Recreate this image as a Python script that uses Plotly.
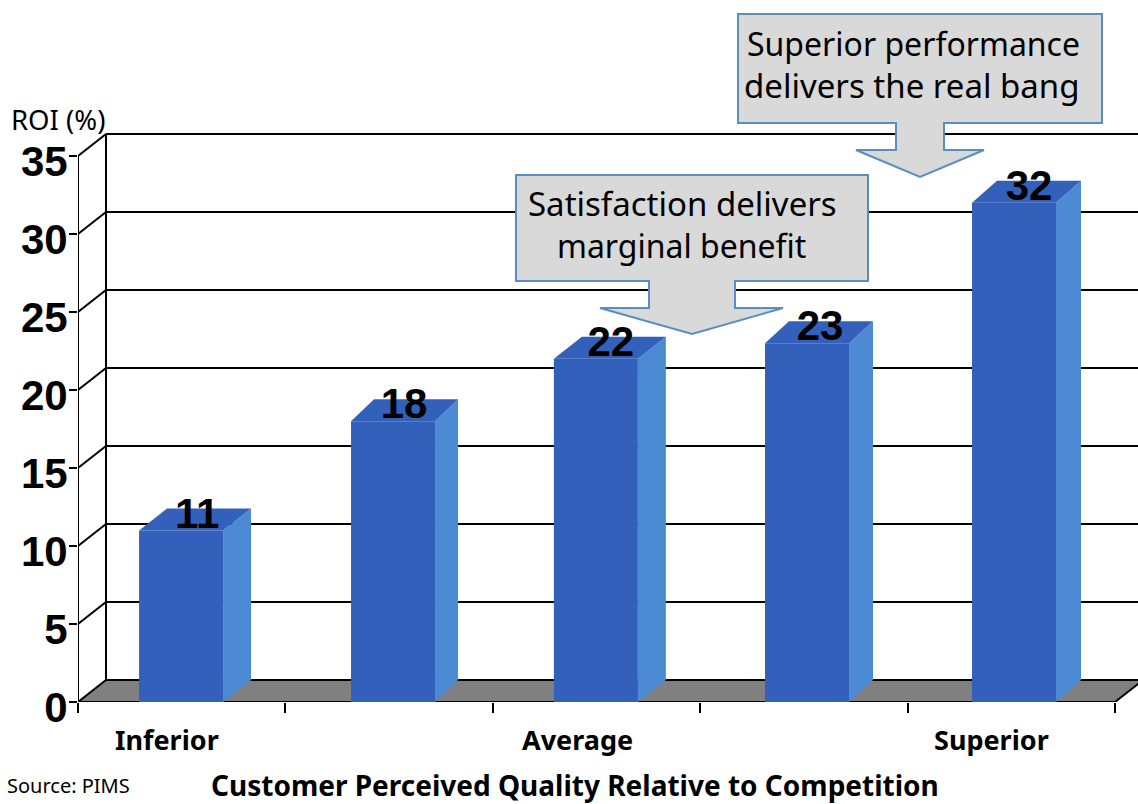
import plotly.graph_objects as go

# ---- data ----
categories = ["Inferior", "", "Average", "", "Superior"]
roi_values = [11, 18, 22, 23, 32]
value_labels = ["11", "18", "22", "23", "32"]
y_ticks = [0, 5, 10, 15, 20, 25, 30, 35]
x_ticks = [0, 1, 2, 3, 4, 5]

# ---- geometry (pixel calibration of the axes) ----
W, H = 1138, 804
X0, Y0 = 78, 702          # pixel of x=0, y=0
SLOT, UNIT = 207.4, 15.6  # pixels per category, per ROI point
DX, DY = 28 / SLOT, 22 / UNIT  # 3-D depth in axis units
BAR_W = 84 / SLOT
bar_nudge = [0.497, 1.519, 2.497, 3.515, 4.513]
bar_depth_px = [28, 23, 28, 24, 25]
label_shift_px = [16, 11, 15, 13, 15]
XMAX = (W - X0) / SLOT
YMAX = Y0 / UNIT
FRONT, SIDE, FLOOR = "#3360BA", "#4C8AD4", "#808080"
BOX_FILL, BOX_LINE = "#D9D9D9", "#5B8CC4"
SANS = "Noto Sans, sans-serif"
HEAD = "Liberation Sans, Arial, sans-serif"


def px(x):
    return (x - X0) / SLOT


def py(y):
    return (Y0 - y) / UNIT


def path(points):
    return "M " + " L ".join(f"{a:.4f},{b:.4f}" for a, b in points) + " Z"


fig = go.Figure()

# front faces
fig.add_trace(go.Bar(x=bar_nudge, y=roi_values, width=BAR_W, marker=dict(color=FRONT, line=dict(width=0)),
                     hoverinfo="skip", showlegend=False))

# side + top faces
for c, v, d in zip(bar_nudge, roi_values, bar_depth_px):
    l, r = c - BAR_W / 2, c + BAR_W / 2
    dx = d / SLOT
    fig.add_trace(go.Scatter(x=[r, r + dx, r + dx, r, r], y=[0, DY, v + DY, v, 0], mode="lines", fill="toself",
                             fillcolor=SIDE, line=dict(width=0), hoverinfo="skip", showlegend=False))
    fig.add_trace(go.Scatter(x=[l, r, r + dx, l + dx, l], y=[v, v, v + DY, v + DY, v], mode="lines", fill="toself",
                             fillcolor=FRONT, line=dict(width=0), hoverinfo="skip", showlegend=False))

# value labels
fig.add_trace(go.Scatter(x=[c + s / SLOT for c, s in zip(bar_nudge, label_shift_px)],
                         y=[v + 0.85 for v in roi_values], mode="text",
                         text=value_labels, textposition="middle center",
                         textfont=dict(family=HEAD, size=42, color="black", weight="bold"),
                         hoverinfo="skip", showlegend=False))

shapes = []
# floor
shapes.append(dict(type="path", path=path([(0, 0), (5, 0), (5 + DX, DY), (DX, DY)]), fillcolor=FLOOR,
                   line=dict(width=0), layer="below", xref="x", yref="y"))


def seg(x1, y1, x2, y2):
    shapes.append(dict(type="line", x0=x1, y0=y1, x1=x2, y1=y2, xref="x", yref="y",
                       line=dict(color="black", width=2), layer="below"))


for t in y_ticks:
    seg(0, t, DX, t + DY)
    seg(DX, t + DY, XMAX, t + DY)
seg(0, 0, 0, y_ticks[-1])
seg(DX, DY, DX, y_ticks[-1] + DY)
seg(0, 0, 5, 0)
seg(5, 0, 5 + DX, DY)

# call-outs
callouts = [
    [(738, 14), (1102, 14), (1102, 123), (944, 123), (944, 150), (984, 150), (920, 177), (856, 150), (896, 150),
     (896, 123), (738, 123)],
    [(516, 175), (868, 175), (868, 281), (735, 281), (735, 308), (783, 308), (692, 334), (600, 308), (649, 308),
     (649, 281), (516, 281)],
]
for pts in callouts:
    shapes.append(dict(type="path", path=path([(px(a), py(b)) for a, b in pts]), fillcolor=BOX_FILL,
                       line=dict(color=BOX_LINE, width=2), layer="above", xref="x", yref="y"))


def label(text, x, y, size, bold=False, family=SANS):
    # paper coordinates, so text outside the plot area stays visible
    return dict(text=f"<b>{text}</b>" if bold else text, x=(x - X0) / (W - X0), y=(Y0 - y) / Y0,
                xref="paper", yref="paper", showarrow=False, xanchor="center", yanchor="middle",
                font=dict(family=family, size=size, color="black"), align="center")


annotations = [
    label("Superior performance", 913, 44, 32),
    label("delivers the real bang", 912, 85, 33),
    label("Satisfaction delivers", 682, 204, 33),
    label("marginal benefit", 681, 245, 32),
    label("ROI (%)", 58, 119, 27.5),
    label(categories[0], 167, 739, 27, True),
    label(categories[2], 577, 739, 27, True),
    label(categories[4], 991, 739, 27, True),
    label("Customer Perceived Quality Relative to Competition", 575, 785, 28, True),
    label("Source: PIMS", 68, 785, 20),
]

fig.update_layout(
    width=W, height=H, margin=dict(l=X0, r=0, t=0, b=H - Y0), paper_bgcolor="white", plot_bgcolor="white",
    shapes=shapes, annotations=annotations, showlegend=False, hovermode=False, barmode="overlay",
    xaxis=dict(range=[0, XMAX], tickvals=x_ticks, ticktext=["" for _ in x_ticks], ticks="outside", ticklen=10,
               tickwidth=2, tickcolor="black", showgrid=False, zeroline=False, showline=False),
    yaxis=dict(range=[0, YMAX], tickvals=y_ticks, ticks="outside", ticklen=8, tickwidth=2, tickcolor="black",
               showgrid=False, zeroline=False, showline=False, ticklabelstandoff=-7, ticklabelshift=5,
               tickfont=dict(family=HEAD, size=42, color="black", weight="bold")),
)

fig.write_html("out.html", config=dict(displayModeBar=False),
               post_script="document.body.style.margin='0';document.body.style.overflow='hidden';")
